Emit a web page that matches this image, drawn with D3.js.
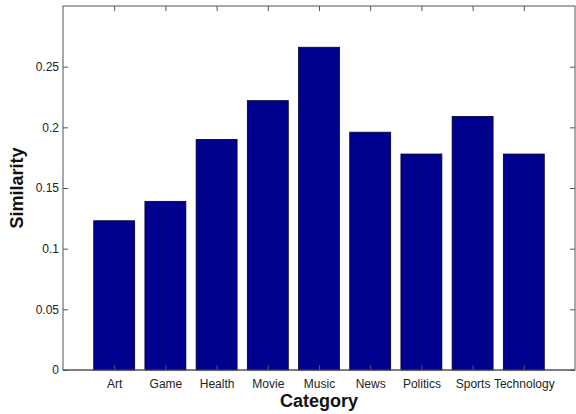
<!DOCTYPE html>
<html><head><meta charset="utf-8">
<script src="https://cdn.jsdelivr.net/npm/d3@7"></script>
<style>body{margin:0;background:#fff}svg{display:block}</style>
</head><body>
<svg id="c" width="576" height="414"></svg>
<script>
const categories = ["Art","Game","Health","Movie","Music","News","Politics","Sports","Technology"];
const similarity = [0.123,0.139,0.190,0.222,0.266,0.196,0.178,0.209,0.178];
const yTicks = [0,0.05,0.1,0.15,0.2,0.25];
const yTickLabels = ["0","0.05","0.1","0.15","0.2","0.25"];

const svg = d3.select("#c");
const L=63, R=575, T=6, B=370;
const x = d3.scaleLinear().domain([0, categories.length+1]).range([L,R]);
const y = d3.scaleLinear().domain([0,0.3]).range([B,T]);
const bw = 0.8;
const font = "Liberation Sans, Arial, sans-serif";

svg.append("rect").attr("x",L).attr("y",T).attr("width",R-L).attr("height",B-T)
  .attr("fill","#fff").attr("stroke","#555").attr("stroke-width",1);

svg.selectAll("rect.bar").data(categories).enter().append("rect").attr("class","bar")
  .attr("x",(d,i)=>x(i+1-bw/2)).attr("width",(d,i)=>x(i+1+bw/2)-x(i+1-bw/2))
  .attr("y",(d,i)=>y(similarity[i])).attr("height",(d,i)=>y(0)-y(similarity[i]))
  .attr("fill","#00008F").attr("stroke","#000033").attr("stroke-width",0.8);

// left axis
const yl = svg.append("g").attr("transform",`translate(${L},0)`)
  .call(d3.axisLeft(y).tickValues(yTicks).tickFormat((d,i)=>yTickLabels[i]).tickSizeInner(-5).tickSizeOuter(0).tickPadding(4));
yl.select(".domain").remove();
yl.selectAll("line").attr("stroke","#555");
yl.selectAll("text").attr("font-family",font).attr("font-size",12).attr("fill","#222").attr("dx",-0);

// right ticks
const yr = svg.append("g").attr("transform",`translate(${R},0)`)
  .call(d3.axisRight(y).tickValues(yTicks).tickFormat("").tickSizeInner(-5).tickSizeOuter(0));
yr.select(".domain").remove();
yr.selectAll("line").attr("stroke","#555");

// bottom axis
const xb = svg.append("g").attr("transform",`translate(0,${B})`)
  .call(d3.axisBottom(x).tickValues(d3.range(1,categories.length+1)).tickFormat(d=>categories[d-1]).tickSizeInner(-5).tickSizeOuter(0).tickPadding(9));
xb.select(".domain").remove();
xb.selectAll("line").attr("stroke","#555");
xb.selectAll("text").attr("font-family",font).attr("font-size",12).attr("fill","#222");

// top ticks
const xt = svg.append("g").attr("transform",`translate(0,${T})`)
  .call(d3.axisTop(x).tickValues(d3.range(1,categories.length+1)).tickFormat("").tickSizeInner(-5).tickSizeOuter(0));
xt.select(".domain").remove();
xt.selectAll("line").attr("stroke","#555");

svg.append("line").attr("x1",L).attr("x2",R).attr("y1",B).attr("y2",B).attr("stroke","#555");

svg.append("text").attr("x",(L+R)/2).attr("y",407).attr("text-anchor","middle")
  .attr("font-family",font).attr("font-size",18).attr("font-weight","bold").attr("fill","#111").text("Category");
svg.append("text").attr("transform",`translate(23,${(T+B)/2}) rotate(-90)`).attr("text-anchor","middle")
  .attr("font-family",font).attr("font-size",18).attr("font-weight","bold").attr("fill","#111").text("Similarity");
</script>
</body></html>
